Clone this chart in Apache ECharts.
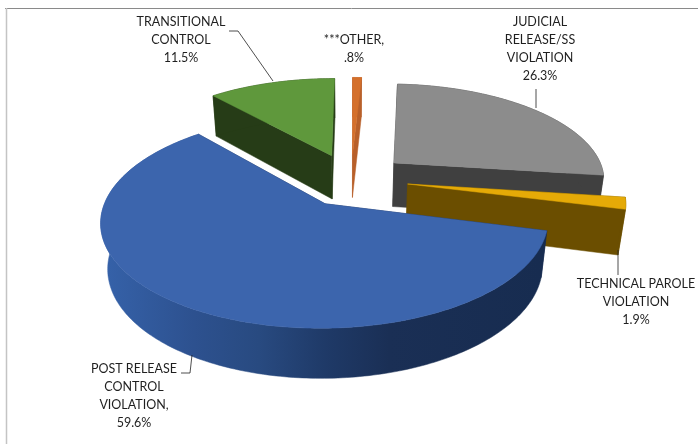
<!DOCTYPE html>
<html><head><meta charset="utf-8">
<style>html,body{margin:0;padding:0;background:#fff}#c{width:698px;height:444px}</style>
<script src="https://cdn.jsdelivr.net/npm/echarts@6/dist/echarts.min.js"></script>
</head><body><div id="c"></div>
<script>
const categories = ["JUDICIAL\nRELEASE/SS\nVIOLATION", "TECHNICAL PAROLE\nVIOLATION", "POST RELEASE\nCONTROL\nVIOLATION,", "TRANSITIONAL\nCONTROL", "***OTHER,"];
const values = [26.3, 1.9, 59.6, 11.5, 0.8];
const percentLabels = ["26.3%", "1.9%", "59.6%", "11.5%", ".8%"];
const topColors = ["#8c8c8c", "#e5aa07", "#3c65ad", "#5f983c", "#d4702c"];
const wallColors = ["#404040", "#6b4e00", "#1a2f55", "#263c17", "#b8602a"];
const blueWallStops = [[0,"#3561a8"],[0.2,"#2d518f"],[0.35,"#284a80"],[0.5,"#1f3a68"],[0.65,"#1a2f55"],[1,"#172c50"]];
const drawOrder = [3, 4, 0, 1, 2];
const labelCenters = [[540,49],[636,302],[134,396],[181,39.5],[354,48.5]];

const firstSliceDeg = 273, explode = 0.27;
const explodeNudge = [[0,0],[0,0],[0.024,0.018],[0,0],[0,0]];
const cx = 351, cy = 179, a = 212, b = 96, p = 0.158, q = 0.027, c = 45.6;
function project(X, Y, Z) {
  const W = 1 - p * Y + q * Z;
  return [cx + a * X / W, cy + (b * Y + c * Z) / W];
}
const total = values.reduce((s, v) => s + v, 0);
let cursor = firstSliceDeg;
const slices = values.map(v => {
  const start = cursor, end = cursor + v / total * 360;
  cursor = end;
  return { start, end };
});
function geom(i) {
  const s = slices[i], mid = (s.start + s.end) / 2 * Math.PI / 180;
  const ox = explode * Math.cos(mid) + explodeNudge[i][0], oy = explode * Math.sin(mid) + explodeNudge[i][1];
  const rimT = [], rimB = [];
  const n = Math.max(2, Math.ceil(s.end - s.start));
  for (let k = 0; k <= n; k++) {
    const t = (s.start + (s.end - s.start) * k / n) * Math.PI / 180;
    const X = ox + Math.cos(t), Y = oy + Math.sin(t);
    rimT.push(project(X, Y, 0));
    rimB.push(project(X, Y, 1));
  }
  return { rimT, rimB, apexT: project(ox, oy, 0), apexB: project(ox, oy, 1) };
}
function poly(points, fill) {
  return { type: 'polygon', shape: { points }, style: { fill, stroke: fill, lineWidth: 0.5 } };
}
function renderSlice(params, api) {
  const i = api.value(0), g = geom(i), last = g.rimT.length - 1;
  let wallFill = wallColors[i];
  if (i === 2) {
    const xs = g.rimB.map(v => v[0]);
    wallFill = new echarts.graphic.LinearGradient(Math.min(...xs), 0, Math.max(...xs), 0,
      blueWallStops.map(([offset, color]) => ({ offset, color })), true);
  }
  return {
    type: 'group',
    children: [
      poly([g.apexT, g.rimT[0], g.rimB[0], g.apexB], wallColors[i]),
      poly([g.apexT, g.rimT[last], g.rimB[last], g.apexB], wallColors[i]),
      poly(g.rimT.concat(g.rimB.slice().reverse()), wallFill),
      poly([g.apexT].concat(g.rimT), topColors[i])
    ]
  };
}
const labelFont = { font: '12.5px Lato', fill: '#1f1f1f', textAlign: 'center', textVerticalAlign: 'middle', lineHeight: 18 };
const labelEls = categories.map((name, i) => ({
  type: 'text', x: labelCenters[i][0], y: labelCenters[i][1], silent: true,
  style: Object.assign({ text: name + "\n" + percentLabels[i] }, labelFont)
}));
function leader(points) {
  return { type: 'polyline', shape: { points }, silent: true, style: { stroke: '#222', lineWidth: 0.8, fill: null } };
}
const frame = [
  { type: 'line', shape: { x1: 5, y1: 8.5, x2: 698, y2: 8.5 }, style: { stroke: '#8a8a8a', lineWidth: 1 }, silent: true },
  { type: 'line', shape: { x1: 6.5, y1: 8, x2: 6.5, y2: 444 }, style: { stroke: '#c4c4c4', lineWidth: 1.5 }, silent: true }
];
const leaders = [
  leader([[229,31],[238,31],[273,81]]),
  leader([[536,89],[536,108]]),
  leader([[618,250],[618,275]]),
  leader([[181,373],[190,373],[192,355]])
];
const chart = echarts.init(document.getElementById('c'), null, { renderer: 'canvas' });
chart.setOption({
  animation: false,
  backgroundColor: '#fff',
  graphic: { elements: frame.concat(labelEls, leaders.map(l => Object.assign({ z: 10 }, l))) },
  series: [{
    type: 'custom',
    coordinateSystem: 'none',
    silent: true,
    renderItem: renderSlice,
    encode: { value: 1 },
    data: drawOrder.map(i => [i, values[i]])
  }]
});
</script></body></html>
